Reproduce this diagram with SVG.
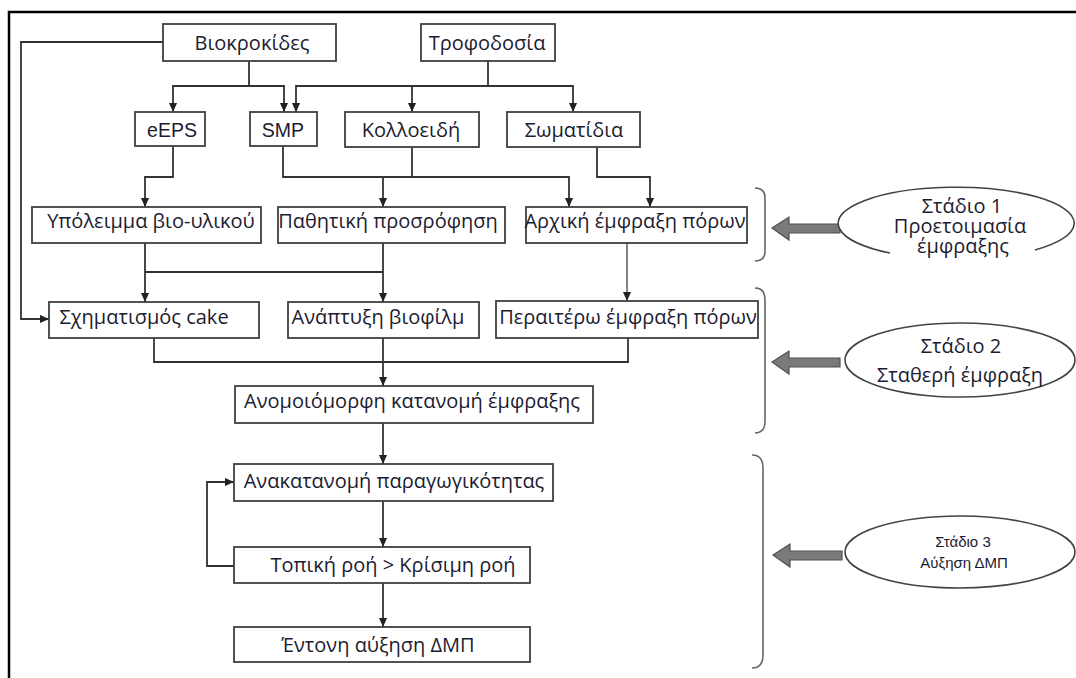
<svg xmlns="http://www.w3.org/2000/svg" width="1076" height="678" viewBox="0 0 1076 678">
<defs>
<style>
.box{fill:#fff;stroke:#404040;stroke-width:1.8}
.t{font-family:"Open Sans","Noto Sans","DejaVu Sans",sans-serif;font-size:20px;fill:#1c1c30;text-anchor:middle}
.a{font-family:"Liberation Sans",Arial,sans-serif;font-size:19.5px;fill:#1c1c30;text-anchor:middle}
.e{font-family:"Open Sans","Noto Sans","DejaVu Sans",sans-serif;font-size:20px;fill:#1c1c30;text-anchor:middle}
.e3{font-family:"Liberation Sans",Arial,sans-serif;font-size:15px;fill:#1c1c30;text-anchor:middle}
.c{fill:none;stroke:#333;stroke-width:1.8}
.thin{fill:none;stroke:#333;stroke-width:1.2}
.brace{fill:none;stroke:#666;stroke-width:1.6}
.blk{fill:#7a7a7a;stroke:#505050;stroke-width:1.2}
.ell{fill:#fff;stroke:#444;stroke-width:1.6}
</style>
<marker id="ah" viewBox="0 0 10 10" refX="10" refY="5" markerWidth="9" markerHeight="9" markerUnits="userSpaceOnUse" orient="auto">
<path d="M0,0.5 L10,5 L0,9.5 z" fill="#222"/>
</marker>
</defs>
<rect width="1076" height="678" fill="#fff"/>
<path d="M9 678 V12 H1076" fill="none" stroke="#000" stroke-width="2.5"/>

<g id="connectors">
<path class="c" d="M163 42 H21 V319 H49" marker-end="url(#ah)"/>
<path class="c" d="M249 61 V86 H173 V112" marker-end="url(#ah)"/>
<path class="c" d="M249 86 H284 V112" marker-end="url(#ah)"/>
<path class="c" d="M488 61 V86 H296 V112" marker-end="url(#ah)"/>
<path class="c" d="M412 86 V112" marker-end="url(#ah)"/>
<path class="c" d="M488 86 H573 V112" marker-end="url(#ah)"/>
<path class="c" d="M173 146 V177 H145 V207" marker-end="url(#ah)"/>
<path class="c" d="M283 146 V177 H569 V207" marker-end="url(#ah)"/>
<path class="c" d="M383 177 V207" marker-end="url(#ah)"/>
<path class="c" d="M412 147 V177"/>
<path class="c" d="M597 147 V177 H650 V207" marker-end="url(#ah)"/>
<path class="c" d="M145 243 V302" marker-end="url(#ah)"/>
<path class="c" d="M145 272 H383"/>
<path class="c" d="M383 243 V302" marker-end="url(#ah)"/>
<path class="thin" d="M627 243 V301" marker-end="url(#ah)"/>
<path class="c" d="M154 338 V362 H628 V338"/>
<path class="c" d="M383 338 V386" marker-end="url(#ah)"/>
<path class="c" d="M383 423 V464" marker-end="url(#ah)"/>
<path class="c" d="M383 501 V547" marker-end="url(#ah)"/>
<path class="c" d="M383 583 V627" marker-end="url(#ah)"/>
<path class="c" d="M234 566 H207 V482 H234" marker-end="url(#ah)"/>
</g>

<g id="n-biokrokides"><rect class="box" x="163" y="24" width="173" height="37"/><text class="t" x="252" y="50">Βιοκροκίδες</text></g>
<g id="n-trofodosia"><rect class="box" x="421" y="24" width="134" height="37"/><text class="t" x="487" y="50">Τροφοδοσία</text></g>
<g id="n-eeps"><rect class="box" x="135" y="112" width="70" height="34"/><text class="a" x="172" y="137">eEPS</text></g>
<g id="n-smp"><rect class="box" x="250" y="112" width="67" height="34"/><text class="a" x="283" y="137">SMP</text></g>
<g id="n-kolloeidi"><rect class="box" x="345" y="112" width="134" height="35"/><text class="t" x="411" y="137">Κολλοειδή</text></g>
<g id="n-somatidia"><rect class="box" x="507" y="112" width="133" height="35"/><text class="t" x="574" y="137">Σωματίδια</text></g>
<g id="n-ypoleimma"><rect class="box" x="32" y="207" width="229" height="36"/><text class="t" x="151" y="228">Υπόλειμμα βιο-υλικού</text></g>
<g id="n-pathitiki"><rect class="box" x="278" y="207" width="227" height="36"/><text class="t" x="388" y="228">Παθητική προσρόφηση</text></g>
<g id="n-arxiki"><rect class="box" x="526" y="207" width="221" height="36"/><text class="t" x="635" y="228">Αρχική έμφραξη πόρων</text></g>
<g id="n-cake"><rect class="box" x="49" y="302" width="210" height="36"/><text class="t" x="144" y="324">Σχηματισμός cake</text></g>
<g id="n-biofilm"><rect class="box" x="288" y="302" width="191" height="36"/><text class="t" x="378" y="324">Ανάπτυξη βιοφίλμ</text></g>
<g id="n-peraitero"><rect class="box" x="496" y="301" width="262" height="37"/><text class="t" x="628" y="324">Περαιτέρω έμφραξη πόρων</text></g>
<g id="n-anomoiomorfi"><rect class="box" x="235" y="386" width="358" height="37"/><text class="t" x="412" y="408">Ανομοιόμορφη κατανομή έμφραξης</text></g>
<g id="n-anakatanomi"><rect class="box" x="234" y="464" width="319" height="37"/><text class="t" x="394" y="488">Ανακατανομή παραγωγικότητας</text></g>
<g id="n-topiki"><rect class="box" x="234" y="547" width="296" height="36"/><text class="t" x="393" y="572">Τοπική ροή &gt; Κρίσιμη ροή</text></g>
<g id="n-entoni"><rect class="box" x="234" y="627" width="296" height="35"/><text class="t" x="378" y="652">Έντονη αύξηση ΔΜΠ</text></g>

<g id="brace-1"><path class="brace" d="M755 188 Q765 188 765 198 V251 Q765 261 755 261"/></g>
<g id="brace-2"><path class="brace" d="M755 288 Q765 288 765 300 V421 Q765 433 755 433"/></g>
<g id="brace-3"><path class="brace" d="M752 455 Q763 455 763 468 V655 Q763 668 752 668"/></g>

<g id="arrow-1"><path class="blk" d="M772 228 L789 217 V224 H840 V233 H789 V240 Z"/></g>
<g id="arrow-2"><path class="blk" d="M772 362 L789 351 V358 H840 V367 H789 V374 Z"/></g>
<g id="arrow-3"><path class="blk" d="M773 555 L790 544 V551 H842 V560 H790 V567 Z"/></g>

<g id="stage-1">
<path class="ell" d="M890 253 A118 36 0 1 1 1035 250"/>
<text class="e"><tspan x="962" y="213">Στάδιο 1</tspan><tspan x="960" y="233">Προετοιμασία</tspan><tspan x="963" y="253">έμφραξης</tspan></text>
</g>
<g id="stage-2">
<ellipse class="ell" cx="960" cy="360" rx="115" ry="37"/>
<text class="e"><tspan x="961" y="353">Στάδιο 2</tspan><tspan x="960" y="382">Σταθερή έμφραξη</tspan></text>
</g>
<g id="stage-3">
<ellipse class="ell" cx="960" cy="552" rx="115" ry="36"/>
<text class="e3"><tspan x="963" y="547">Στάδιο 3</tspan><tspan x="964" y="568">Αύξηση ΔΜΠ</tspan></text>
</g>
</svg>
